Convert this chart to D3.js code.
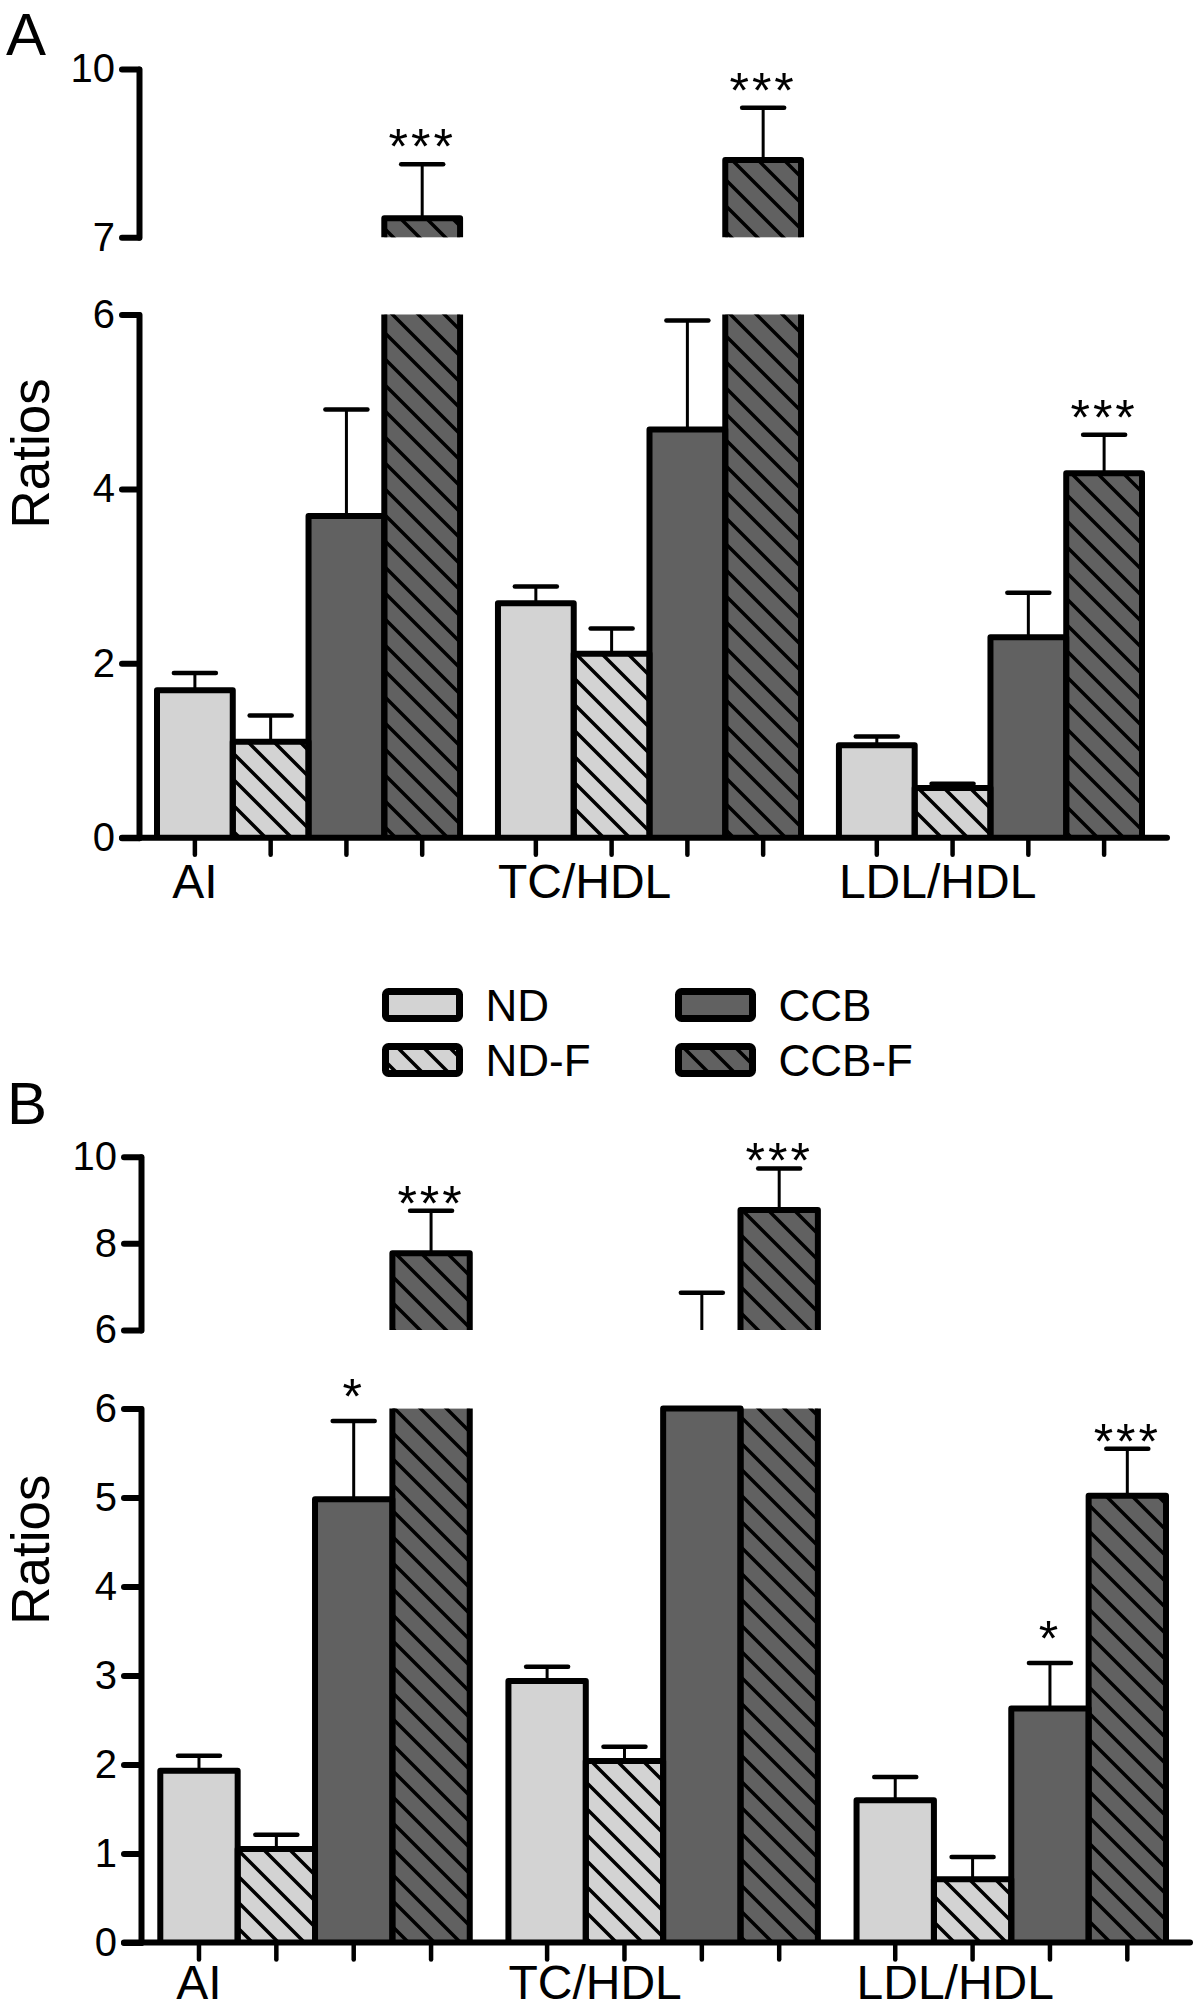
<!DOCTYPE html>
<html><head><meta charset="utf-8">
<script src="https://cdn.jsdelivr.net/npm/d3@7"></script>
<style>html,body{margin:0;padding:0;background:#fff;} svg{display:block;}</style>
</head><body>
<svg id="chart" width="1200" height="2012"></svg>
<script>
// ---------------- DATA ----------------
const groups = ["AI", "TC/HDL", "LDL/HDL"];
const seriesNames = ["ND", "ND-F", "CCB", "CCB-F"];

// Panel A : means and SEM (upper error)
const A_ND      = [1.69, 2.69, 1.06];
const A_NDF     = [1.10, 2.11, 0.57];
const A_CCB     = [3.69, 4.68, 2.30];
const A_CCBF    = [7.34, 8.38, 4.18];
const A_ND_err  = [0.20, 0.19, 0.10];
const A_NDF_err = [0.30, 0.29, 0.05];
const A_CCB_err = [1.22, 1.25, 0.51];
const A_CCBF_err= [0.96, 0.93, 0.44];
const A_CCB_sig  = ["", "", ""];
const A_CCBF_sig = ["***", "***", "***"];

// Panel B : means and SEM (upper error)
const B_ND      = [1.93, 2.94, 1.60];
const B_NDF     = [1.05, 2.04, 0.71];
const B_CCB     = [4.98, 6.00, 2.63];
const B_CCBF    = [7.77, 8.77, 5.02];
const B_ND_err  = [0.17, 0.16, 0.26];
const B_NDF_err = [0.16, 0.16, 0.25];
const B_CCB_err = [0.88, 0.86, 0.51];
const B_CCBF_err= [0.98, 0.96, 0.53];
const B_CCB_sig  = ["*", "", "*"];
const B_CCBF_sig = ["***", "***", "***"];

// axis segments (broken y axis) and tick labels
const A_lowDomain = [0, 6],  A_lowTicks = [0, 2, 4, 6];
const A_highDomain = [7, 10], A_highTicks = [7, 10];
const B_lowDomain = [0, 6],  B_lowTicks = [0, 1, 2, 3, 4, 5, 6];
const B_highDomain = [6, 10], B_highTicks = [6, 8, 10];

const yTitle = "Ratios";

// ---------------- STYLE ----------------
const FONT = "'Liberation Sans', Arial, Helvetica, sans-serif";
const fills = { "ND": "#d3d3d3", "ND-F": "#d3d3d3", "CCB": "#616161", "CCB-F": "#616161" };
const hatched = { "ND": false, "ND-F": true, "CCB": false, "CCB-F": true };

const svg = d3.select("#chart");
const defs = svg.append("defs");
const pat = defs.append("pattern").attr("id", "hatch")
  .attr("patternUnits", "userSpaceOnUse").attr("width", 26).attr("height", 26);
pat.append("path")
  .attr("d", "M-6.5,-6.5 L32.5,32.5 M-6.5,19.5 L6.5,32.5 M19.5,-6.5 L32.5,6.5")
  .attr("stroke", "#000").attr("stroke-width", 3.5).attr("fill", "none");

const panels = [
  {
    letter: "A", letterPos: [6, 55],
    means: [A_ND, A_NDF, A_CCB, A_CCBF],
    errs: [A_ND_err, A_NDF_err, A_CCB_err, A_CCBF_err],
    sigs: [null, null, A_CCB_sig, A_CCBF_sig],
    axisX: 139, barRange: [157, 1142], xEnd: 1167, labelY: 898, titleX: 49,
    segs: [
      { domain: A_lowDomain, range: [837.7, 314.5], ticks: A_lowTicks },
      { domain: A_highDomain, range: [237.3, 69], ticks: A_highTicks }
    ],
    starGap: { "***": 0, "*": 0 }
  },
  {
    letter: "B", letterPos: [7, 1124],
    means: [B_ND, B_NDF, B_CCB, B_CCBF],
    errs: [B_ND_err, B_NDF_err, B_CCB_err, B_CCBF_err],
    sigs: [null, null, B_CCB_sig, B_CCBF_sig],
    axisX: 141, barRange: [160.3, 1166], xEnd: 1190, labelY: 1999, titleX: 49,
    segs: [
      { domain: B_lowDomain, range: [1942.5, 1408.6], ticks: B_lowTicks },
      { domain: B_highDomain, range: [1330, 1156.7], ticks: B_highTicks }
    ],
    starGap: { "***": 10, "*": -7 }
  }
];

function drawPanel(cfg) {
  const g = svg.append("g");
  const xg = d3.scaleBand().domain(groups).range(cfg.barRange).paddingInner(1 / 9).paddingOuter(0);
  const xs = d3.scaleBand().domain(seriesNames).range([0, xg.bandwidth()]).padding(0);
  const segs = cfg.segs.map(s => Object.assign({}, s, { y: d3.scaleLinear().domain(s.domain).range(s.range) }));
  const baseY = segs[0].y(0);

  const fillLayer = g.append("g");
  const errLayer = g.append("g");
  const borderLayer = g.append("g");
  const starLayer = g.append("g");

  groups.forEach((grp, gi) => {
    seriesNames.forEach((ser, si) => {
      const v = cfg.means[si][gi];
      const e = cfg.errs[si][gi];
      const x0 = xg(grp) + xs(ser), x1 = x0 + xs.bandwidth(), xc = (x0 + x1) / 2;
      const top = v + e;
      segs.forEach((s, k) => {
        const lo = s.domain[0], hi = s.domain[1];
        if (v > lo || k === 0) {
          const t = Math.min(v, hi);
          const yT = s.y(t), yB = s.y(k === 0 ? 0 : lo);
          fillLayer.append("rect").attr("x", x0).attr("y", yT).attr("width", x1 - x0).attr("height", yB - yT)
            .attr("fill", fills[ser]);
          if (hatched[ser]) {
            fillLayer.append("rect").attr("x", x0).attr("y", yT).attr("width", x1 - x0).attr("height", yB - yT)
              .attr("fill", "url(#hatch)");
          }
          const closed = v <= hi;
          const d = closed ? `M${x0},${yB} V${yT} H${x1} V${yB}` : `M${x0},${yB} V${yT} M${x1},${yT} V${yB}`;
          borderLayer.append("path").attr("d", d).attr("fill", "none").attr("stroke", "#000")
            .attr("stroke-width", 6).attr("stroke-linejoin", "round").attr("stroke-linecap", "butt");
        }
        const a = Math.max(v, lo), b = Math.min(top, hi);
        if (b > a) {
          errLayer.append("line").attr("x1", xc).attr("x2", xc).attr("y1", s.y(a)).attr("y2", s.y(b))
            .attr("stroke", "#000").attr("stroke-width", 3);
        }
        if (top >= lo && top <= hi) {
          errLayer.append("line").attr("x1", xc - 21).attr("x2", xc + 21).attr("y1", s.y(top)).attr("y2", s.y(top))
            .attr("stroke", "#000").attr("stroke-width", 4.5).attr("stroke-linecap", "round");
          const sig = cfg.sigs[si] ? cfg.sigs[si][gi] : "";
          if (sig) {
            starLayer.append("text").attr("x", xc).attr("y", s.y(top) + cfg.starGap[sig])
              .attr("text-anchor", "middle").attr("font-family", FONT).attr("font-size", 50)
              .attr("letter-spacing", 3).text(sig);
          }
        }
      });
    });
  });

  segs.forEach(s => {
    const ax = g.append("g").attr("transform", `translate(${cfg.axisX},0)`)
      .call(d3.axisLeft(s.y).tickValues(s.ticks).tickSize(17).tickSizeOuter(0).tickPadding(7).tickFormat(d3.format("d")));
    ax.select(".domain").attr("stroke-width", 6).attr("stroke-linecap", "round");
    ax.selectAll(".tick line").attr("stroke-width", 6).attr("stroke-linecap", "round");
    ax.selectAll(".tick text").attr("font-family", FONT).attr("font-size", 40).attr("fill", "#000");
  });

  g.append("line").attr("x1", cfg.axisX - 17).attr("x2", cfg.xEnd).attr("y1", baseY).attr("y2", baseY)
    .attr("stroke", "#000").attr("stroke-width", 6).attr("stroke-linecap", "round");
  groups.forEach(grp => {
    seriesNames.forEach(ser => {
      const xc = xg(grp) + xs(ser) + xs.bandwidth() / 2;
      g.append("line").attr("x1", xc).attr("x2", xc).attr("y1", baseY).attr("y2", baseY + 17)
        .attr("stroke", "#000").attr("stroke-width", 4.5).attr("stroke-linecap", "round");
    });
    const t = g.append("text").attr("y", cfg.labelY).attr("font-family", FONT).attr("font-size", 48).text(grp);
    const w = t.node().getComputedTextLength();
    const firstC = xg(grp) + xs.bandwidth() / 2;
    t.attr("x", Math.max(xg(grp), firstC - w / 2));
  });

  const yMid = (segs[0].range[0] + segs[segs.length - 1].range[1]) / 2;
  g.append("text").attr("transform", `translate(${cfg.titleX},${yMid}) rotate(-90)`)
    .attr("text-anchor", "middle").attr("font-family", FONT).attr("font-size", 53).text(yTitle);

  g.append("text").attr("x", cfg.letterPos[0]).attr("y", cfg.letterPos[1])
    .attr("font-family", FONT).attr("font-size", 60).text(cfg.letter);
}

panels.forEach(drawPanel);

// legend
const legendPos = { ND: [385.5, 991.5], "ND-F": [385.5, 1046.5], CCB: [678.5, 991.5], "CCB-F": [678.5, 1046.5] };
const leg = svg.append("g");
seriesNames.forEach(ser => {
  const [x, y] = legendPos[ser];
  leg.append("rect").attr("x", x).attr("y", y).attr("width", 74).attr("height", 27).attr("fill", fills[ser]);
  if (hatched[ser]) leg.append("rect").attr("x", x).attr("y", y).attr("width", 74).attr("height", 27).attr("fill", "url(#hatch)");
  leg.append("rect").attr("x", x).attr("y", y).attr("width", 74).attr("height", 27).attr("rx", 3)
    .attr("fill", "none").attr("stroke", "#000").attr("stroke-width", 7);
  leg.append("text").attr("x", x + 100).attr("y", y + 29).attr("font-family", FONT).attr("font-size", 44).text(ser);
});
</script>
</body></html>
